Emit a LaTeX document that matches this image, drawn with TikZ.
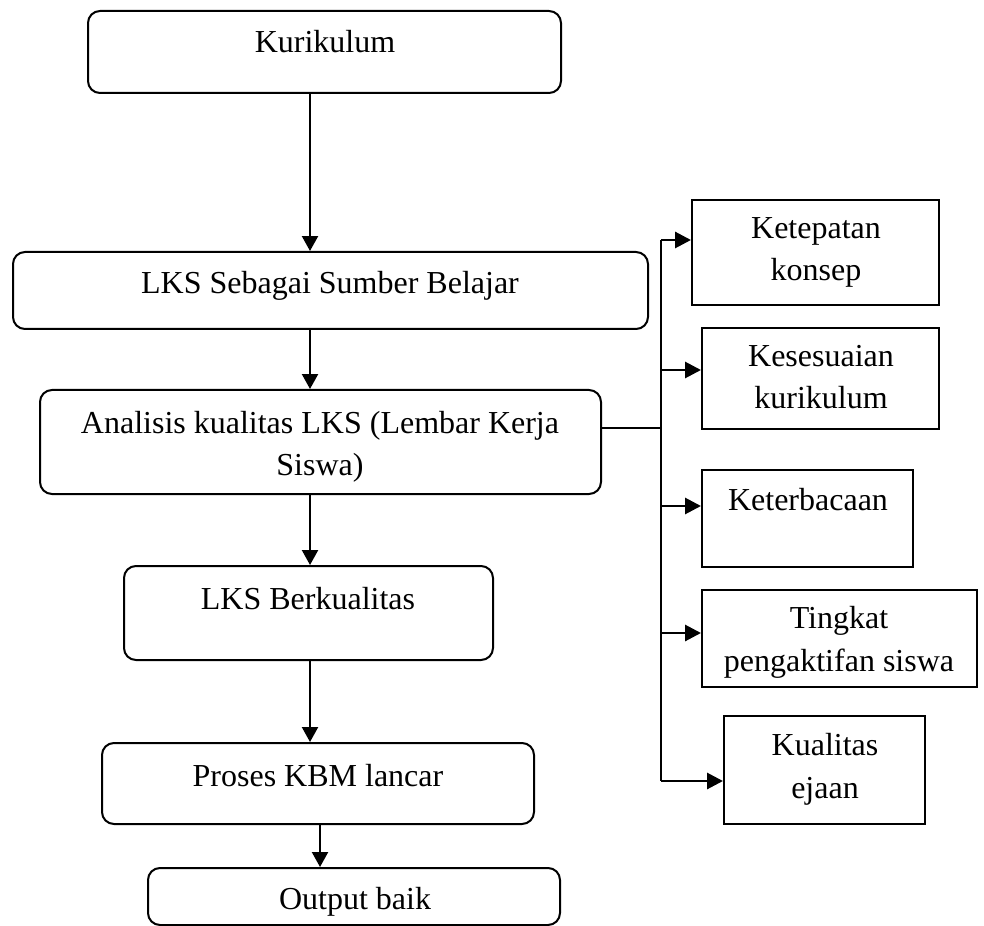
\documentclass[tikz,border=0pt]{standalone}
\usepackage{fontspec}
\setmainfont{Liberation Serif}
\usetikzlibrary{arrows.meta,fit}
\begin{document}
\begin{tikzpicture}[x=0.375pt,y=-0.375pt,
  rbox/.style={draw, line width=0.75pt, rounded corners=4.5pt, inner sep=0pt},
  sbox/.style={draw, line width=0.75pt, inner sep=0pt},
  txt/.style={align=center, inner sep=0pt, font=\fontsize{12}{16}\selectfont},
  arr/.style={line width=0.75pt, -{Triangle[length=5.6pt,width=6pt]}},
  barr/.style={line width=1.1pt, -{Triangle[length=6pt,width=6pt]}},
  busline/.style={line width=0.75pt}]
\useasboundingbox (0,0) rectangle (984,926);

% main column boxes
\node[rbox, fit={(88,11)(561,93)}] (k) {};
\node[txt, anchor=base] (kt) at (325,53) {Kurikulum};
\node[rbox, fit={(13,252)(648,329)}] (l) {};
\node[txt, anchor=base] (lt) at (330,294) {LKS Sebagai Sumber Belajar};
\node[rbox, fit={(40,390)(601,494)}] (a) {};
\node[txt, anchor=base] (at) at (320,476) {Analisis kualitas LKS (Lembar Kerja\\Siswa)};
\node[rbox, fit={(124,566)(493,660)}] (b) {};
\node[txt, anchor=base] (bt) at (308,609) {LKS Berkualitas};
\node[rbox, fit={(102,743)(534,824)}] (p) {};
\node[txt, anchor=base] (pt) at (318,786) {Proses KBM lancar};
\node[rbox, fit={(148,868)(560,925)}] (o) {};
\node[txt, anchor=base] (ot) at (355,909) {Output baik};

% right column boxes
\node[sbox, fit={(692,200)(939,305)}] (r1) {};
\node[txt, anchor=base] (r1t) at (816,281) {Ketepatan\\konsep};
\node[sbox, fit={(702,328)(939,429)}] (r2) {};
\node[txt, anchor=base] (r2t) at (821,409) {Kesesuaian\\kurikulum};
\node[sbox, fit={(702,470)(913,567)}] (r3) {};
\node[txt, anchor=base] (r3t) at (808,510) {Keterbacaan};
\node[sbox, fit={(702,590)(977,687)}] (r4) {};
\node[txt, anchor=base] (r4t) at (839,671) {Tingkat\\pengaktifan siswa};
\node[sbox, fit={(724,716)(925,824)}] (r5) {};
\node[txt, anchor=base] (r5t) at (825,798) {Kualitas\\ejaan};

% helper coordinates
\coordinate (axis) at (310,0);
\coordinate (axis2) at (320,0);
\coordinate (bus) at (661,0);
\coordinate (hy) at (0,428);
\coordinate (y1) at (0,240);
\coordinate (y2) at (0,370);
\coordinate (y3) at (0,506);
\coordinate (y4) at (0,633);
\coordinate (y5) at (0,781);

% main arrows
\draw[arr] (k.south -| axis) -- (l.north -| axis);
\draw[arr] (l.south -| axis) -- (a.north -| axis);
\draw[arr] (a.south -| axis) -- (b.north -| axis);
\draw[arr] (b.south -| axis) -- (p.north -| axis);
\draw[arr] (p.south -| axis2) -- (o.north -| axis2);

% branch
\draw[busline] (a.east |- hy) -- (bus |- hy);
\draw[busline] (bus |- y1) -- (bus |- y5);
\draw[barr] (bus |- y1) -- (r1.west |- y1);
\draw[barr] (bus |- y2) -- (r2.west |- y2);
\draw[barr] (bus |- y3) -- (r3.west |- y3);
\draw[barr] (bus |- y4) -- (r4.west |- y4);
\draw[barr] (bus |- y5) -- (r5.west |- y5);
\end{tikzpicture}
\end{document}
